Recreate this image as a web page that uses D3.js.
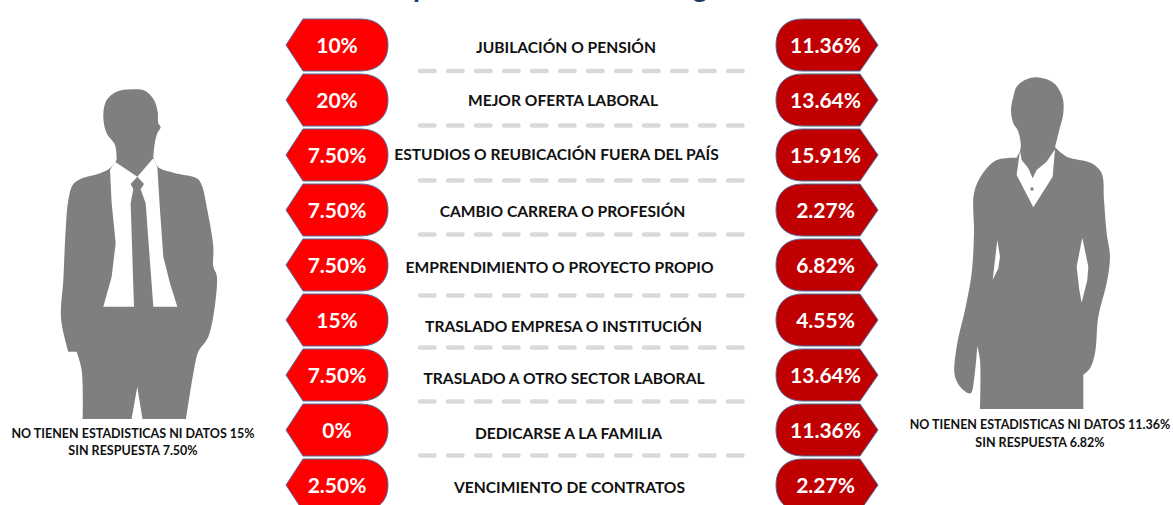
<!DOCTYPE html>
<html>
<head>
<meta charset="utf-8">
<script src="https://cdn.jsdelivr.net/npm/d3@7"></script>
<style>
    html, body { margin: 0; padding: 0; background: #fff; }
    svg { display: block; }
    text { font-family: Lato, "Open Sans", sans-serif; font-weight: 700; }
</style>
</head>
<body>
<div id="dataviz"></div>
<script>
"use strict";

// Data
const reasons = [
    "JUBILACIÓN O PENSIÓN",
    "MEJOR OFERTA LABORAL",
    "ESTUDIOS O REUBICACIÓN FUERA DEL PAÍS",
    "CAMBIO CARRERA O PROFESIÓN",
    "EMPRENDIMIENTO O PROYECTO PROPIO",
    "TRASLADO EMPRESA O INSTITUCIÓN",
    "TRASLADO A OTRO SECTOR LABORAL",
    "DEDICARSE A LA FAMILIA",
    "VENCIMIENTO DE CONTRATOS"
];
const menValues = [10, 20, 7.5, 7.5, 7.5, 15, 7.5, 0, 2.5];
const womenValues = [11.36, 13.64, 15.91, 2.27, 6.82, 4.55, 13.64, 11.36, 2.27];
const menNotes = ["NO TIENEN ESTADISTICAS NI DATOS 15%", "SIN RESPUESTA 7.50%"];
const womenNotes = ["NO TIENEN ESTADISTICAS NI DATOS 11.36%", "SIN RESPUESTA 6.82%"];

// Layout
const WIDTH = 1173, HEIGHT = 505;
const LEFT_FILL = "#ff0000", RIGHT_FILL = "#c00000", EDGE = "#4f6d9f";
const GREY = "#7f7f7f", DASH = "#d9d9d9", TITLE = "#1f3864";

// the labels are not quite centred on their rows in the original
const labelDx = [3, 0, -6.5, -0.5, -3.5, 0.5, 1, 5.5, 6.5];
const labelDy = [2, 0, -1, 1, 2, 6, 3, 3, 2];
const dashDy = [-1.5, -2, -2, -3, 3, 0, -1, -2];
const LABEL_SQUEEZE = 0.975;   // Lato runs a bit wider than the original font

// Silhouettes, traced in the 3x space of the crops
// a repeated point keeps a hard corner when the curve goes through it
const manOutline = [[395,58],[435,62],[462,90],[473,125],[475,160],[482,172],[472,190],[464,222],[460,262],[460,262],[475,292],[520,308],[590,325],[605,345],[622,420],[640,530],[640,590],[650,615],[648,680],[625,800],[595,845],[582,900],[558,1047],[558,1047],[428,1047],[428,1047],[412,950],[412,950],[395,1047],[395,1047],[248,1047],[248,1047],[245,900],[230,845],[230,845],[205,845],[205,845],[183,745],[190,630],[197,480],[205,390],[218,345],[240,328],[300,310],[330,295],[350,270],[350,270],[345,225],[320,190],[310,140],[320,90],[350,65]];
const manShirtLeft = [[345,275],[412,320],[392,342],[400,358],[392,400],[402,710],[310,710],[335,620],[347,520],[335,400],[330,300]];
const manShirtRight = [[460,265],[472,292],[480,420],[490,560],[510,640],[532,710],[460,710],[437,400],[422,358],[432,342],[412,320]];
const womanOutline = [[410,52],[460,68],[487,110],[490,160],[478,210],[465,262],[465,262],[500,290],[575,310],[605,340],[612,420],[620,520],[630,590],[620,670],[595,770],[585,880],[570,925],[550,945],[550,945],[550,1047],[550,1047],[240,1047],[240,1047],[240,900],[232,858],[232,858],[222,960],[212,1000],[190,990],[165,950],[170,860],[195,750],[215,640],[222,520],[222,400],[245,345],[290,300],[350,293],[350,293],[362,265],[355,215],[340,190],[333,150],[340,110],[350,80],[380,58]];
const womanCollar = [[360,272],[350,345],[400,442],[458,350],[465,268],[440,305],[410,330],[398,355],[385,325],[365,300]];
const womanGapLeft = [[292,540],[300,590],[295,625],[278,660],[285,600]];
const womanGapRight = [[547,533],[565,620],[562,660],[545,728],[538,690],[530,620]];

var svg = d3.select("#dataviz").append("svg")
    .attr("width", WIDTH)
    .attr("height", HEIGHT);

svg.append("rect").attr("width", WIDTH).attr("height", HEIGHT).attr("fill", "#fff");

// Scales
var yScale = d3.scalePoint().domain(reasons).range([45, 485]);
var step = yScale.step();
const SHAPE_H = 52;

function pct(v){
    return (Number.isInteger(v) ? v : v.toFixed(2)) + "%";
}

// Title is cut by the top of the picture, only two descenders are left of it
svg.selectAll(".title-bit")
    .data([{c: "p", x: 421}, {c: "g", x: 700}])
    .enter().append("text")
    .attr("class", "title-bit")
    .attr("x", function(d){ return d.x; })
    .attr("y", -3)
    .attr("text-anchor", "middle")
    .attr("font-size", 28)
    .attr("fill", TITLE)
    .text(function(d){ return d.c; });

// Dashed separators
svg.selectAll(".sep")
    .data(reasons.slice(0, -1))
    .enter().append("line")
    .attr("class", "sep")
    .attr("x1", 420)
    .attr("x2", 745)
    .attr("y1", function(d, i){ return yScale(d) + step / 2 + dashDy[i]; })
    .attr("y2", function(d, i){ return yScale(d) + step / 2 + dashDy[i]; })
    .attr("stroke", DASH)
    .attr("stroke-width", 4.5)
    .attr("stroke-linecap", "round")
    .attr("stroke-dasharray", "14.5 13.5");

// Tag shape, pointing out from the centre of the chart
function tagPath(cy, tip, shoulder, flat, round){
    var h = SHAPE_H / 2;
    var p = d3.path();
    p.moveTo(tip, cy);
    p.lineTo(shoulder, cy - h);
    p.lineTo(flat, cy - h);
    p.bezierCurveTo(flat + (round - flat) * 0.7, cy - h, round, cy - h * 0.55, round, cy);
    p.bezierCurveTo(round, cy + h * 0.55, flat + (round - flat) * 0.7, cy + h, flat, cy + h);
    p.lineTo(shoulder, cy + h);
    p.closePath();
    return p.toString();
}

function drawColumn(values, fill, tip, shoulder, flat, round, textX){
    var g = svg.append("g");
    g.selectAll("path")
        .data(values)
        .enter().append("path")
        .attr("d", function(d, i){ return tagPath(yScale(reasons[i]), tip, shoulder, flat, round); })
        .attr("fill", fill)
        .attr("stroke", EDGE)
        .attr("stroke-width", 1);
    g.selectAll("text")
        .data(values)
        .enter().append("text")
        .attr("x", textX)
        .attr("y", function(d, i){ return yScale(reasons[i]) + 1; })
        .attr("dy", "0.35em")
        .attr("text-anchor", "middle")
        .attr("font-size", 21)
        .attr("fill", "#fff")
        .text(pct);
}

drawColumn(menValues, LEFT_FILL, 286, 303, 360, 388, 337);
drawColumn(womenValues, RIGHT_FILL, 878, 860, 803, 776, 825.5);

// Reason labels
svg.selectAll(".reason")
    .data(reasons)
    .enter().append("text")
    .attr("class", "reason")
    .attr("transform", function(d, i){
        return "translate(" + (563 + labelDx[i]) + "," + (yScale(d) + labelDy[i]) + ")scale(" + LABEL_SQUEEZE + ",1)";
    })
    .attr("dy", "0.35em")
    .attr("text-anchor", "middle")
    .attr("font-size", 16)
    .attr("fill", "#111")
    .text(function(d){ return d; });

// Silhouettes
var outline = d3.line().curve(d3.curveCatmullRomClosed.alpha(0.5));
var sharp = d3.line().curve(d3.curveLinearClosed);

var man = svg.append("g").attr("transform", "translate(0,70) scale(0.3333)");
man.append("path").attr("d", outline(manOutline)).attr("fill", GREY);
man.selectAll(".shirt")
    .data([manShirtLeft, manShirtRight])
    .enter().append("path")
    .attr("class", "shirt")
    .attr("d", sharp)
    .attr("fill", "#fff");

var woman = svg.append("g").attr("transform", "translate(900,60) scale(0.3333)");
woman.append("path").attr("d", outline(womanOutline)).attr("fill", GREY);
woman.selectAll(".shirt")
    .data([womanCollar, womanGapLeft, womanGapRight])
    .enter().append("path")
    .attr("class", "shirt")
    .attr("d", sharp)
    .attr("fill", "#fff");
woman.append("circle").attr("cx", 396).attr("cy", 387).attr("r", 5).attr("fill", GREY);

// Notes under the figures
function drawNotes(notes, x, y0, lineGap){
    svg.append("g").selectAll("text")
        .data(notes)
        .enter().append("text")
        .attr("x", x)
        .attr("y", function(d, i){ return y0 + i * lineGap; })
        .attr("dy", "0.35em")
        .attr("text-anchor", "middle")
        .attr("font-size", 12.5)
        .attr("fill", "#111")
        .text(function(d){ return d; });
}

drawNotes(menNotes, 133, 434, 16.5);
drawNotes(womenNotes, 1040, 425, 17.5);
</script>
</body>
</html>
